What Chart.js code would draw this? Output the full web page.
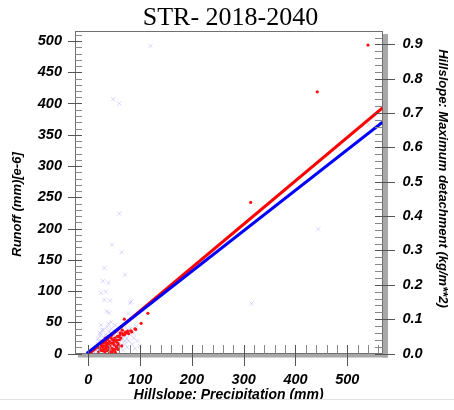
<!DOCTYPE html>
<html><head><meta charset="utf-8">
<script src="https://cdn.jsdelivr.net/npm/chart.js@4"></script>
<style>html,body{margin:0;padding:0;background:#fff}</style>
</head><body>
<canvas id="c" width="454" height="410"></canvas>
<script>
// ---- data ----
const chartTitle = 'STR- 2018-2040';
const xTitle = 'Hillslope: Precipitation (mm)';
const yLeftTitle = 'Runoff (mm)[e-6]';
const yRightTitle = 'Hillslope: Maximum detachment (kg/m**2)';

const xTicks = [0, 100, 200, 300, 400, 500];
const yLeftTicks = [0, 50, 100, 150, 200, 250, 300, 350, 400, 450, 500];
const yRightTicks = [0.0, 0.1, 0.2, 0.3, 0.4, 0.5, 0.6, 0.7, 0.8, 0.9];

// Runoff points (blue crosses), [precipitation, runoff]
const runoffX = [120,48,60,60,46,64.5,71,31,28,38.6,24.5,33.6,31,42,80.5,83,35.5,40.5,77,24.5,38.6,315,444,541,64.5,93,87,74,29,22.6,
  12,15,18,20,22,25,26,28,30,30,32,33,35,35,37,38,40,40,42,43,45,45,47,48,50,50,52,55,55,57,58,60,62,63,65,67,68,70,72,75,78,80,85,88,90,20,23,27,18,16,52,60,70,82,95,100,36,44,
  14,19,24,29,34,39,44,49,54,59,26,31,41,46,51,56,61,66,71,76];
const runoffY = [492,407,400,224,174,162,126,137,116,113,97,99,85.6,84.5,81,83,67,65,64,45.6,48,80,199,366,43,43,32,24,37.6,33,
  2,5,3,8,12,6,15,20,10,25,18,30,5,22,14,28,8,35,20,12,25,40,5,18,30,10,22,15,35,8,26,18,30,12,22,5,35,15,28,10,20,30,15,25,8,20,28,38,15,10,45,40,45,40,20,12,42,50,
  6,24,32,8,14,20,32,12,26,34,4,2,4,9,16,6,10,30,20,38];

// Detachment points (red dots), [precipitation, detachment]
const detachX = [540,442,313.5,115,102,90,69.5,82,74,65.6,61,58,91.5,84,67.6,59,55,48,35.5,38.6,31,26,55,46,64.5,
  20,22,24,25,27,28,29,30,31,32,33,34,35,36,37,38,39,40,41,42,43,44,45,46,47,48,50,51,52,53,54,56,57,60,62,63,66,70,72,76,78,
  23,26,29,33,36,41,44,49,52,58];
const detachY = [0.898,0.762,0.44,0.117,0.088,0.072,0.1,0.066,0.06,0.068,0.054,0.025,0.07,0.063,0.054,0.049,0.039,0.03,0.03,0.049,0.039,0.02,0.018,0.005,0.022,
  0.005,0.015,0.01,0.025,0.008,0.018,0.03,0.012,0.022,0.005,0.035,0.015,0.025,0.008,0.04,0.018,0.028,0.012,0.035,0.022,0.005,0.045,0.03,0.015,0.04,0.01,0.025,0.045,0.012,0.035,0.02,0.05,0.03,0.04,0.06,0.045,0.058,0.055,0.062,0.065,0.058,
  0.028,0.035,0.008,0.045,0.02,0.002,0.052,0.038,0.003,0.012];

// fitted lines (end points)
const runoffFitX = [-3, 568];
const runoffFitY = [0, 370];
const detachFitX = [2, 568];
const detachFitY = [0, 0.715];

// ---- build ----
const pts = (xs, ys) => xs.map((x, i) => ({x, y: ys[i]}));
const FONT = '"Liberation Sans", Arial, sans-serif';
const tickFont = {family: FONT, size: 14.5, style: 'italic', weight: 'bold'};

const decor = {
  id: 'decor',
  beforeDatasetsDraw(chart) {
    const {ctx, chartArea: a} = chart;
    ctx.save();
    ctx.fillStyle = '#a8a8a8';
    ctx.fillRect(a.right, a.top + 3, 5.5, a.bottom - a.top + 1);
    ctx.fillRect(a.left + 3, a.bottom, a.right - a.left + 2.5, 4);
    ctx.fillStyle = '#fff';
    ctx.fillRect(a.left, a.top, a.right - a.left, a.bottom - a.top);
    ctx.strokeStyle = '#707070';
    ctx.lineWidth = 1;
    ctx.strokeRect(a.left + 0.5, a.top + 0.5, a.right - a.left - 0.5, a.bottom - a.top - 0.5);
    ctx.restore();
  },
  afterDatasetsDraw(chart) {
    const {ctx, chartArea: a, scales} = chart;
    const xs = scales.x, yl = scales.y, yr = scales.y2;
    ctx.save();
    ctx.lineWidth = 1;
    const line = (x1, y1, x2, y2, c) => {
      ctx.strokeStyle = c; ctx.beginPath(); ctx.moveTo(x1, y1); ctx.lineTo(x2, y2); ctx.stroke();
    };
    for (let v = 0; v <= yl.max; v += 10) {
      const p = Math.round(yl.getPixelForValue(v)) + 0.5;
      if (v % 50 === 0) line(a.left - 7, p, a.left + 7, p, '#555');
      else line(a.left, p, a.left + 7, p, '#888');
    }
    for (let i = 0; i * 0.02 <= yr.max + 1e-9; i++) {
      const p = Math.round(yr.getPixelForValue(i * 0.02)) + 0.5;
      if (i % 5 === 0) line(a.right - 7.5, p, a.right + 12.5, p, '#555');
      else line(a.right - 7.5, p, a.right, p, '#888');
    }
    for (let v = 0; v <= xs.max; v += 20) {
      const p = Math.round(xs.getPixelForValue(v)) + 0.5;
      if (v % 100 === 0) line(p, a.bottom - 8.5, p, a.bottom + 12.5, '#555');
      else line(p, a.bottom - 8.5, p, a.bottom, '#888');
    }
    ctx.restore();
  },
  afterDraw(chart) {
    const {ctx} = chart;
    ctx.save();
    ctx.fillStyle = '#000';
    ctx.font = 'italic bold 13px ' + FONT;
    ctx.textAlign = 'center';
    ctx.textBaseline = 'middle';
    ctx.save(); ctx.translate(17.5, 204.5); ctx.rotate(-Math.PI / 2); ctx.fillText(yLeftTitle, 0, 0); ctx.restore();
    ctx.save(); ctx.translate(443, 178.5); ctx.rotate(Math.PI / 2); ctx.fillText(yRightTitle, 0, 0); ctx.restore();
    ctx.fillStyle = '#fff';
    ctx.fillRect(0, 399.5, 454, 11);
    ctx.strokeStyle = '#e2e2e2';
    ctx.beginPath(); ctx.moveTo(0, 399.5); ctx.lineTo(454, 399.5); ctx.stroke();
    ctx.restore();
  }
};

new Chart(document.getElementById('c'), {
  type: 'scatter',
  data: {
    datasets: [
      {type: 'line', data: pts(runoffFitX, runoffFitY), yAxisID: 'y', borderColor: '#0000ff', borderWidth: 3, pointRadius: 0, fill: false},
      {type: 'line', data: pts(detachFitX, detachFitY), yAxisID: 'y2', borderColor: '#ff0000', borderWidth: 3, pointRadius: 0, fill: false},
      {data: pts(detachX, detachY), yAxisID: 'y2', pointStyle: 'circle', pointRadius: 1.6, backgroundColor: '#ff1010', borderWidth: 0},
      {data: pts(runoffX, runoffY), yAxisID: 'y', pointStyle: 'crossRot', pointRadius: 3, borderColor: 'rgba(160,160,255,0.4)', borderWidth: 1}
    ]
  },
  options: {
    responsive: false,
    animation: false,
    devicePixelRatio: 1,
    layout: {padding: {left: 7, right: 0, top: 0, bottom: 0}},
    plugins: {
      legend: {display: false},
      tooltip: {enabled: false},
      title: {display: true, text: chartTitle, color: '#000',
        font: {family: '"Liberation Serif", "Times New Roman", serif', size: 26, weight: 'normal', lineHeight: 1},
        padding: {top: 5, bottom: 0}}
    },
    scales: {
      x: {
        type: 'linear', position: 'bottom', min: -25.7, max: 568,
        grid: {display: false, drawTicks: false}, border: {display: false},
        afterBuildTicks: s => { s.ticks = xTicks.map(v => ({value: v})); },
        afterFit: s => { s.height = 56.5; },
        ticks: {color: '#000', font: tickFont, padding: 18, maxRotation: 0, autoSkip: false},
        title: {display: true, text: xTitle, color: '#000', font: {family: FONT, size: 14, style: 'italic', weight: 'bold'}, padding: {top: 0, bottom: 6.6}}
      },
      y: {
        type: 'linear', position: 'left', min: 0, max: 516,
        grid: {display: false, drawTicks: false}, border: {display: false},
        afterBuildTicks: s => { s.ticks = yLeftTicks.map(v => ({value: v})); },
        afterFit: s => { s.width = 68; },
        ticks: {color: '#000', font: tickFont, padding: 13, autoSkip: false}
      },
      y2: {
        type: 'linear', position: 'right', min: 0, max: 0.939,
        grid: {display: false, drawTicks: false}, border: {display: false},
        afterBuildTicks: s => { s.ticks = yRightTicks.map(v => ({value: v})); },
        afterFit: s => { s.width = 71.5; },
        ticks: {color: '#000', font: tickFont, padding: 20, autoSkip: false, callback: v => Number(v).toFixed(1)}
      }
    }
  },
  plugins: [decor]
});
</script>
</body></html>
